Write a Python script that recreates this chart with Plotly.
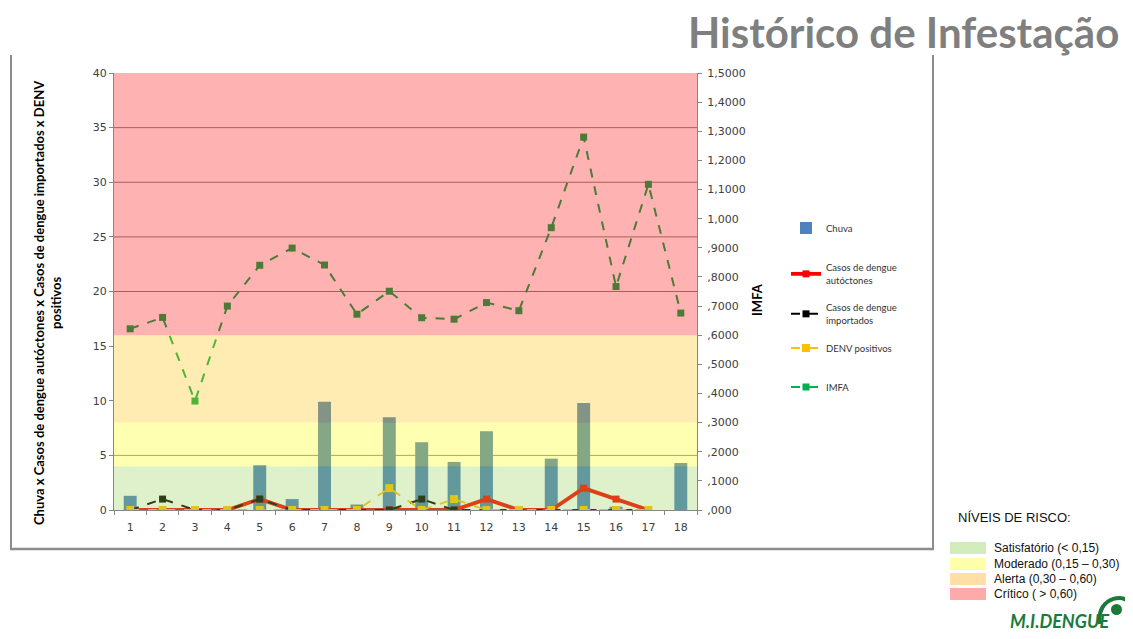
import plotly.graph_objects as go

# page body has an 8px margin: size the figure so the page fits 1133x639 exactly
OFF = 8
FW, FH = 1133 - 2 * OFF, 639 - 2 * OFF

categories = [str(i) for i in range(1, 19)]
chuva = [1.3, 0, 0, 0, 4.1, 1.0, 9.9, 0.5, 8.5, 6.2, 4.4, 7.2, 0, 4.7, 9.8, 0.3, 0, 4.3]
autoctones = [0, 0, 0, 0, 1, 0, 0, 0, 0, 0, 0, 1, 0, 0, 2, 1, 0, None]
importados = [0, 1, 0, 0, 1, 0, 0, 0, 0, 1, 0, 0, 0, 0, 0, 0, 0, None]
denv = [0, 0, 0, 0, 0, 0, 0, 0, 2, 0, 1, 0, 0, 0, 0, 0, 0, None]
imfa = [0.622, 0.661, 0.374, 0.700, 0.840, 0.899, 0.841, 0.672, 0.751, 0.660,
        0.655, 0.712, 0.684, 0.969, 1.280, 0.767, 1.118, 0.676]

left_ticks = [0, 5, 10, 15, 20, 25, 30, 35, 40]
right_tickvals = [i / 10 for i in range(16)]
right_ticktext = [",000", ",1000", ",2000", ",3000", ",4000", ",5000", ",6000", ",7000",
                  ",8000", ",9000", "1,000", "1,1000", "1,2000", "1,3000", "1,4000", "1,5000"]
grid_values = [5, 20, 25, 30, 35]

risk_levels = [(0.0, 0.15, "#92D050"), (0.15, 0.30, "#FFFF00"),
               (0.30, 0.60, "#FFC000"), (0.60, 1.5, "#FF0000")]
risk_labels = ["Satisfatório (< 0,15)", "Moderado (0,15 – 0,30)",
               "Alerta (0,30 – 0,60)", "Crítico ( > 0,60)"]
risk_swatch = ["#D2ECBC", "#FFFFAA", "#FFDFA6", "#FFAAAA"]


def px_x(p):
    return (p - OFF) / FW


def px_y(p):
    return 1 - (p - OFF) / FH


legend_ids = ["legend", "legend2", "legend3", "legend4", "legend5"]
legend_centers = [228, 274, 314, 348, 387]

fig = go.Figure()
fig.add_trace(go.Bar(x=categories, y=chuva, name="Chuva", marker_color="#4F81BD",
                     marker_line_width=0, legend=legend_ids[0]))
fig.add_trace(go.Scatter(x=categories, y=autoctones, name="Casos de dengue<br>autóctones",
                         mode="lines+markers", line=dict(color="#FF0000", width=3.8),
                         marker=dict(symbol="square", size=7, color="#FF0000"),
                         legend=legend_ids[1]))
fig.add_trace(go.Scatter(x=categories, y=importados, name="Casos de dengue<br>importados",
                         mode="lines+markers", line=dict(color="#000000", width=2, dash="dash"),
                         marker=dict(symbol="square", size=7, color="#000000"),
                         legend=legend_ids[2]))
fig.add_trace(go.Scatter(x=categories, y=denv, name="DENV positivos",
                         mode="lines+markers", line=dict(color="#FFC000", width=1.8, dash="dash"),
                         marker=dict(symbol="square", size=8, color="#FFC000"),
                         legend=legend_ids[3]))
fig.add_trace(go.Scatter(x=categories, y=imfa, name="IMFA", yaxis="y2",
                         mode="lines+markers", line=dict(color="#00B050", width=2, dash="dash"),
                         marker=dict(symbol="square", size=7, color="#00B050"),
                         legend=legend_ids[4]))

shapes = []
for g in grid_values:
    shapes.append(dict(type="line", xref="x domain", yref="y", x0=0, x1=1, y0=g, y1=g,
                       line=dict(color="#868686", width=1), layer="below"))
for lo, hi, col in risk_levels:
    shapes.append(dict(type="rect", xref="x domain", yref="y2", x0=0, x1=1, y0=lo, y1=hi,
                       fillcolor=col, opacity=0.3, line=dict(width=0), layer="above"))
frame_col = "#8C8C8C"
shapes.append(dict(type="line", xref="paper", yref="paper", x0=px_x(11), x1=px_x(11),
                   y0=px_y(55), y1=px_y(549), line=dict(color=frame_col, width=2)))
shapes.append(dict(type="line", xref="paper", yref="paper", x0=px_x(933), x1=px_x(933),
                   y0=px_y(55), y1=px_y(549), line=dict(color=frame_col, width=2)))
shapes.append(dict(type="line", xref="paper", yref="paper", x0=px_x(10), x1=px_x(934),
                   y0=px_y(549), y1=px_y(549), line=dict(color=frame_col, width=2.5)))
sw_y = [548, 564, 579, 594]
for yc, col in zip(sw_y, risk_swatch):
    shapes.append(dict(type="rect", xref="paper", yref="paper", x0=px_x(950), x1=px_x(986),
                       y0=px_y(yc + 6), y1=px_y(yc - 6), fillcolor=col, line=dict(width=0)))
# logo mark (kept inside the visible figure area)
shapes.append(dict(type="path", xref="paper", yref="paper",
                   path=f"M {px_x(1100)} {px_y(624)} C {px_x(1095)} {px_y(596)}, {px_x(1130)} {px_y(590)}, {px_x(1132)} {px_y(609)}",
                   line=dict(color="#1A7A3A", width=4)))
shapes.append(dict(type="circle", xref="paper", yref="paper", x0=px_x(1111), x1=px_x(1122),
                   y0=px_y(615), y1=px_y(604), fillcolor="#1A7A3A", line=dict(width=0)))

annotations = [
    dict(text="<b>Histórico de Infestação</b>", xref="paper", yref="paper",
         x=px_x(1121), y=px_y(32), xanchor="right", yanchor="middle", showarrow=False,
         font=dict(family="Lato", size=42, color="#7F7F7F")),
    dict(text="<b>Chuva x Casos de dengue autóctones x Casos de dengue importados x DENV<br>positivos</b>",
         xref="paper", yref="paper", x=px_x(48), y=px_y(303), textangle=-90,
         xanchor="center", yanchor="middle", showarrow=False,
         font=dict(family="Lato", size=13, color="#000000")),
    dict(text="<b>IMFA</b>", xref="paper", yref="paper", x=px_x(757), y=px_y(300), textangle=-90,
         xanchor="center", yanchor="middle", showarrow=False,
         font=dict(family="Lato", size=13, color="#000000")),
    dict(text="NÍVEIS DE RISCO:", xref="paper", yref="paper", x=px_x(956), y=px_y(517),
         xanchor="left", yanchor="middle", showarrow=False,
         font=dict(family="Liberation Sans", size=13, color="#111111")),
    dict(text="<b><i>M.I.DENGUE</i></b>", xref="paper", yref="paper", x=px_x(1008), y=px_y(621),
         xanchor="left", yanchor="middle", showarrow=False,
         font=dict(family="Lato", size=18, color="#1A7A3A")),
]
for yc, lab in zip(sw_y, risk_labels):
    annotations.append(dict(text=lab, xref="paper", yref="paper", x=px_x(992), y=px_y(yc),
                            xanchor="left", yanchor="middle", showarrow=False,
                            font=dict(family="Liberation Sans", size=12, color="#111111")))

tick_font = dict(family="DejaVu Sans", size=11, color="#404040")
legend_font = dict(family="Lato", size=9.5, color="#333333")
layout_legends = {}
for lid, yc in zip(legend_ids, legend_centers):
    layout_legends[lid] = dict(x=px_x(786), y=px_y(yc), xanchor="left", yanchor="middle",
                               font=legend_font, bgcolor="rgba(0,0,0,0)")

fig.update_layout(
    width=FW, height=FH,
    margin=dict(l=0, r=0, t=0, b=0, autoexpand=False),
    paper_bgcolor="white", plot_bgcolor="white",
    bargap=0.6,
    showlegend=True,
    xaxis=dict(domain=[px_x(114), px_x(697)], type="category", tickson="boundaries",
               range=[-0.5, 17.5], automargin=False, ticklabelstandoff=7,
               ticks="outside", ticklen=4, tickcolor="#868686", showline=True,
               linecolor="#868686", linewidth=1, showgrid=False, tickfont=tick_font),
    yaxis=dict(domain=[px_y(510), px_y(73)], range=[0, 40], tickvals=left_ticks,
               automargin=False,
               ticks="outside", ticklen=4, tickcolor="#868686", showline=True,
               linecolor="#868686", linewidth=1, showgrid=False, zeroline=False,
               tickfont=tick_font),
    yaxis2=dict(overlaying="y", side="right", anchor="x", range=[0, 1.5],
                tickvals=right_tickvals, ticktext=right_ticktext, automargin=False,
                ticklabelstandoff=3,
                ticks="outside", ticklen=4, tickcolor="#868686", showline=True,
                linecolor="#868686", linewidth=1, showgrid=False, zeroline=False,
                tickfont=tick_font),
    shapes=shapes,
    annotations=annotations,
    **layout_legends,
)

fig.write_html("out.html")
